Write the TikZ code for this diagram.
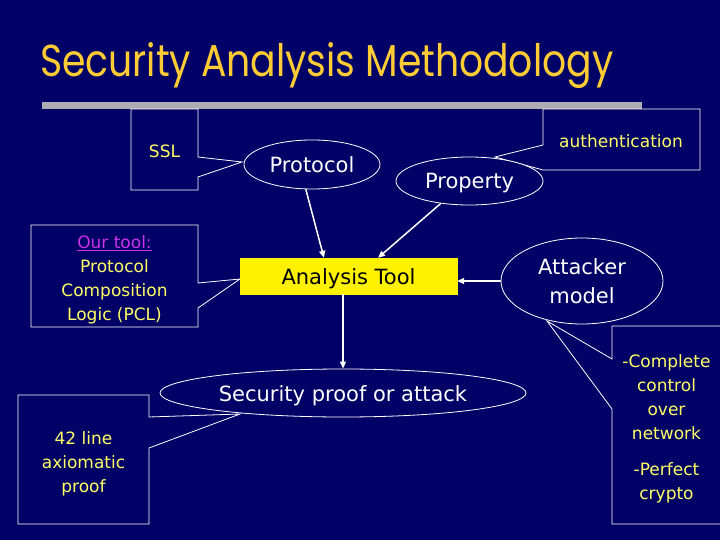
\documentclass[tikz,border=0pt]{standalone}
\usepackage{fontspec}
\setmainfont{DejaVu Sans}
\newfontfamily\titlefont{Poppins}
\usetikzlibrary{shapes.geometric,arrows.meta,calc}
\definecolor{bgnavy}{RGB}{0,0,102}
\definecolor{titlegold}{RGB}{255,204,51}
\definecolor{calloutyellow}{RGB}{255,255,102}
\definecolor{tooltitle}{RGB}{204,51,230}
\definecolor{bargray}{RGB}{172,172,178}
\begin{document}
\begin{tikzpicture}[x=1pt,y=-1pt,
  oval/.style={ellipse,draw=white,line width=0.8pt,fill=bgnavy,text=white,inner sep=0pt,
    font=\fontsize{21}{29}\selectfont,align=center},
  oneline/.style={text height=16pt,text depth=0pt},
  callout/.style={draw=white,line width=0.8pt},
  callouttext/.style={text=calloutyellow,font=\fontsize{17}{24}\selectfont,align=center,inner sep=0pt},
  flow/.style={draw=white,line width=1.5pt,-{Triangle[length=7pt,width=6pt]}}
]
\useasboundingbox (0,0) rectangle (720,540);
\clip (0,0) rectangle (720,540);
\fill[bgnavy] (0,0) rectangle (720,540);

% title and bar
\node[anchor=base west,inner sep=0pt,text=titlegold] (title) at (40,77)
  {\resizebox{573pt}{34pt}{\titlefont Security Analysis Methodology}};
\fill[bargray] (42,102) rectangle (642,109);

% callouts
\draw[callout] (131,109) -- (198,109) -- (198,157) -- (242,162) -- (198,177) -- (198,190) -- (131,190) -- cycle;
\node[callouttext] (ssl) at (164.5,151.5) {SSL};

\draw[callout] (31,225) -- (198,225) -- (198,283) -- (240,279) -- (198,308) -- (198,327) -- (31,327) -- cycle;
\node[callouttext] (ourtool) at (114.5,279.5) {\textcolor{tooltitle}{\underline{Our tool:}}\\Protocol\\Composition\\Logic (PCL)};

\draw[callout] (18,395) -- (149,395) -- (149,417) -- (240,414) -- (149,448) -- (149,524) -- (18,524) -- cycle;
\node[callouttext] (proof42) at (83.5,463.5) {42 line\\axiomatic\\proof};

\draw[callout] (543,109) -- (700,109) -- (700,170) -- (543,170) -- (495,157) -- (543,145) -- cycle;
\node[callouttext] (auth) at (621,141) {authentication};

\draw[callout] (612,326) -- (722,326) -- (722,524) -- (612,524) -- (612,409) -- (547,321) -- (612,359) -- cycle;
\node[callouttext] (attlist) at (666.5,428.5) {-Complete\\control\\over\\network\\[12pt]-Perfect\\crypto};

% main nodes
\node[oval,oneline,minimum width=136pt,minimum height=49pt] (prot) at (312,164.5) {Protocol};
\node[oval,oneline,minimum width=147pt,minimum height=48pt] (prop) at (469.5,181) {Property};
\node[rectangle,oneline,fill=yellow,draw=yellow,minimum width=217pt,minimum height=36pt,inner sep=0pt,
  font=\fontsize{21}{29}\selectfont,text=black] (ana) at (348.5,276) {Analysis Tool};
\node[oval,minimum width=162pt,minimum height=86pt] (att) at (582,281) {Attacker\\model};
\node[oval,oneline,minimum width=366pt,minimum height=48pt] (sec) at (343,393) {Security proof or attack};

% connectors
\draw[flow] (prot.-104) -- ($(ana.north west)!0.387!(ana.north east)$);
\draw[flow] (prop.-142) -- ($(ana.north west)!0.636!(ana.north east)$);
\draw[flow] (att.west) -- (att.west -| ana.east);
\draw[flow] (sec.north |- ana.south) -- (sec.north);
\end{tikzpicture}
\end{document}
